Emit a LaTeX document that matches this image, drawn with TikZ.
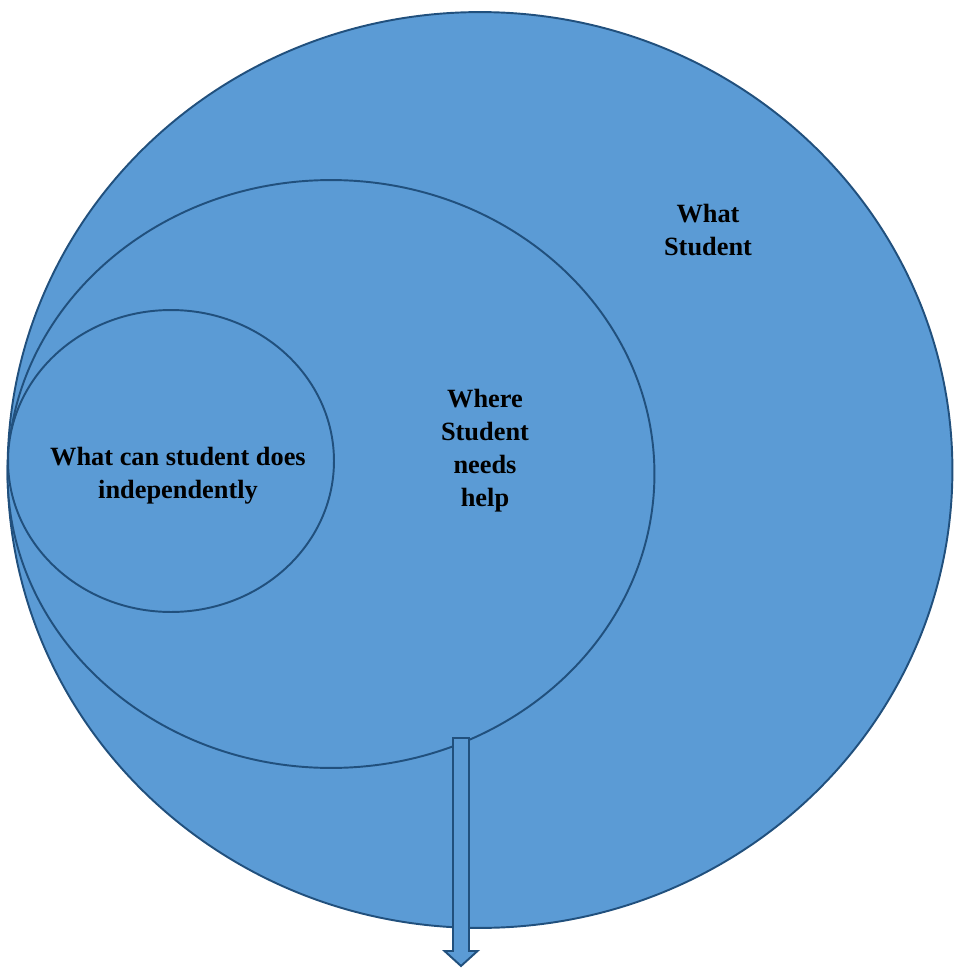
\documentclass[tikz,border=0pt]{standalone}
\usepackage{fontspec}
\setmainfont{Liberation Serif}
\usepackage{tikz}
\usetikzlibrary{
  shapes.geometric,
  positioning
}
\definecolor{zonefill}{RGB}{91,155,213}
\definecolor{zoneline}{RGB}{33,80,125}
\tikzset{
  zone/.style={
    draw=zoneline, ellipse, fill=zonefill,
    line width=1.1pt, inner sep=0pt
  },
  zone label/.style={
    align=center, font=\fontsize{15}{18.8}\selectfont\bfseries
  },
  down arrow/.style={
    draw=zoneline, fill=zonefill, line width=1.1pt
  },
}
\begin{document}
\begin{tikzpicture}[x=0.02cm, y=-0.02cm]

  \useasboundingbox (0,0) rectangle (953,969);

  \node[zone, minimum width=18.9cm, minimum height=18.32cm]
    (outer)  at (480,470) {};
  \node[zone, minimum width=12.94cm, minimum height=11.76cm]
    (middle) at (331,474) {};
  \node[zone, minimum width=6.52cm, minimum height=6.04cm]
    (inner)  at (171,461) {};

  % block arrow out of the middle zone
  \coordinate (help top) at (461,738);
  \coordinate (help tip) at (461,966);
  \draw[down arrow]
    ([xshift=-0.16cm]help top) -- ([xshift=0.16cm]help top)
    -- ([xshift=0.16cm, yshift=0.3cm]help tip)
    -- ([xshift=0.33cm, yshift=0.3cm]help tip) -- (help tip)
    -- ([xshift=-0.33cm, yshift=0.3cm]help tip)
    -- ([xshift=-0.16cm, yshift=0.3cm]help tip) -- cycle;

  \node[zone label] (knows)  at (708,230) {What\\Student};
  \node[zone label] (needs)  at (485,451) {Where\\Student\\needs\\help};
  \node[zone label] (indep)  at (178,476) {What can student does\\independently};

\end{tikzpicture}
\end{document}
